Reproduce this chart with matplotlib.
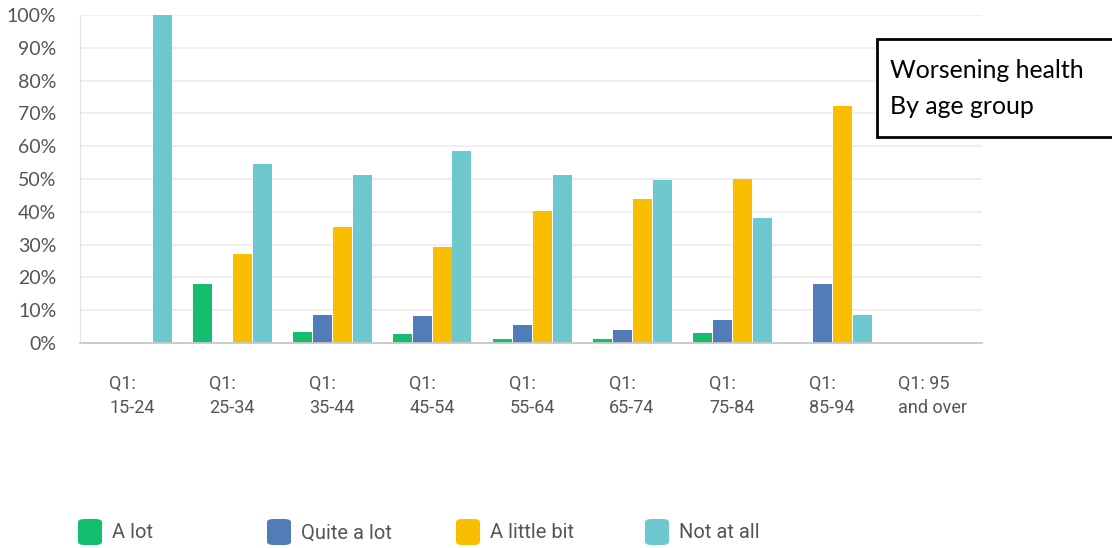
import numpy as np
import matplotlib
matplotlib.use("Agg")
import matplotlib.pyplot as plt
from matplotlib.patches import Rectangle, FancyBboxPatch

# survey responses by age group (share of respondents)
age_groups = ["Q1:\n15-24", "Q1:\n25-34", "Q1:\n35-44", "Q1:\n45-54", "Q1:\n55-64",
              "Q1:\n65-74", "Q1:\n75-84", "Q1:\n85-94", "Q1: 95\nand over"]
series_names = ["A lot", "Quite a lot", "A little bit", "Not at all"]
a_lot = [0.0, 18.0, 3.3, 2.8, 1.2, 1.2, 2.9, 0.0, 0.0]
quite_a_lot = [0.0, 0.0, 8.6, 8.1, 5.5, 3.9, 7.0, 18.0, 0.0]
a_little_bit = [0.0, 27.0, 35.5, 29.2, 40.1, 43.8, 50.1, 72.3, 0.0]
not_at_all = [100.0, 54.5, 51.2, 58.5, 51.2, 49.6, 38.0, 8.6, 0.0]
colors = ["#13bf6e", "#507cb7", "#f9be00", "#6dc8cf"]

W, H = 1112, 548
fig = plt.figure(figsize=(W / 100, H / 100), dpi=100)
ax = fig.add_axes([80 / W, (H - 343) / H, 902 / W, 328 / H])

x = np.arange(len(age_groups))
width = 0.19
offsets = [-0.3, -0.1, 0.1, 0.3]
for vals, off, c in zip([a_lot, quite_a_lot, a_little_bit, not_at_all], offsets, colors):
    ax.bar(x + off, np.array(vals) / 100, width=width, color=c, zorder=3)

ax.set_xlim(-0.52, 8.5)
ax.set_ylim(0, 1.0)
ax.set_yticks(np.arange(0, 1.01, 0.1))
ax.set_yticklabels([f"{int(round(v * 100))}%" for v in np.arange(0, 1.01, 0.1)])
ax.set_xticks(x)
ax.set_xticklabels(age_groups, ha="center", multialignment="left")
ax.grid(axis="y", color="#ececec", lw=1.2, zorder=0)
ax.tick_params(length=0)
ax.tick_params(axis="y", pad=17, labelsize=14, labelcolor="#555555")
ax.tick_params(axis="x", pad=23, labelsize=13, labelcolor="#555555")
for lbl in ax.get_yticklabels():
    lbl.set_family(["Lato", "DejaVu Sans"])
for lbl in ax.get_xticklabels():
    lbl.set_family(["Liberation Sans Narrow", "Roboto", "DejaVu Sans"])
    lbl.set_linespacing(1.45)
for side in ["top", "right"]:
    ax.spines[side].set_visible(False)
ax.spines["left"].set_color("#e3e3e3")
ax.spines["bottom"].set_color("#c8c8c8")
ax.spines["bottom"].set_linewidth(1.3)
for sp in ax.spines.values():
    sp.set_zorder(4)

# legend row along the bottom
for i, (name, c) in enumerate(zip(series_names, colors)):
    x0 = 78 + i * 189
    box = FancyBboxPatch(((x0) / W, (H - 545) / H), 24 / W, 26 / H,
                         boxstyle="round,pad=0,rounding_size=0.006",
                         transform=fig.transFigure, facecolor=c, edgecolor="none")
    fig.patches.append(box)
    fig.text((x0 + 34) / W, (H - 533) / H, name, fontsize=14.5, color="#555555",
             va="center", ha="left",
             family=["Liberation Sans Narrow", "Roboto", "DejaVu Sans"])

# caption box in the upper right
fig.patches.append(Rectangle((877 / W, (H - 137) / H), 260 / W, 98 / H,
                             transform=fig.transFigure, facecolor="white",
                             edgecolor="black", lw=2, zorder=5))
fig.text(890 / W, (H - 70) / H, "Worsening health", fontsize=17.9, color="black",
         family=["Lato", "DejaVu Sans"], va="center", zorder=6)
fig.text(890 / W, (H - 106) / H, "By age group", fontsize=17.9, color="black",
         family=["Lato", "DejaVu Sans"], va="center", zorder=6)

fig.savefig("out.png", dpi=100)
